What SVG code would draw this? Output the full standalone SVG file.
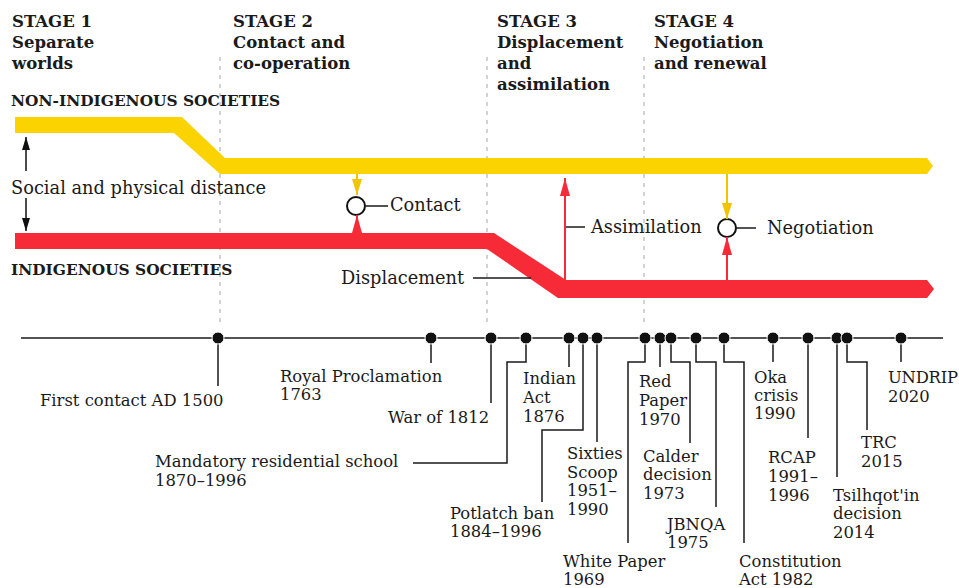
<svg xmlns="http://www.w3.org/2000/svg" width="959" height="588" viewBox="0 0 959 588">
<style>
text { font-family: "DejaVu Serif", serif; fill: #1a1a1a; }
.h { font-weight: bold; font-size: 16.5px; }
.soc { font-weight: bold; font-size: 15.4px; }
.lab { font-size: 17.8px; }
.ev { font-size: 16.4px; }
.dash { stroke: #b5b5b5; stroke-width: 1.2; stroke-dasharray: 4 5; fill: none; }
.lead { stroke: #1a1a1a; stroke-width: 1.5; fill: none; }
.tick { stroke: #1a1a1a; stroke-width: 1.5; }
.dot { fill: #111; stroke: #fff; stroke-width: 1; }
.ring { fill: #fff; stroke: #111; stroke-width: 2; }
.yel { fill: #FBD300; }
.red { fill: #F72A38; }
.ya { stroke: #F2C400; stroke-width: 2; marker-end: url(#mY); }
.ra { stroke: #F72A38; stroke-width: 2; marker-end: url(#mR); }
.ka { stroke: #111; stroke-width: 1.5; marker-end: url(#mK); }
</style>
<defs>
<marker id="mY" markerUnits="userSpaceOnUse" markerWidth="16" markerHeight="10" refX="16" refY="5" orient="auto"><path d="M0,0 L16,5 L0,10 Z" fill="#F2C400"/></marker>
<marker id="mR" markerUnits="userSpaceOnUse" markerWidth="18" markerHeight="10" refX="18" refY="5" orient="auto"><path d="M0,0 L18,5 L0,10 Z" fill="#F72A38"/></marker>
<marker id="mK" markerUnits="userSpaceOnUse" markerWidth="13" markerHeight="8" refX="13" refY="4" orient="auto"><path d="M0,0 L13,4 L0,8 Z" fill="#111"/></marker>
</defs>
<rect width="959" height="588" fill="#fff"/>

<g id="stage-dividers">
<line class="dash" x1="220" y1="57" x2="220" y2="324"/>
<line class="dash" x1="487" y1="57" x2="487" y2="324"/>
<line class="dash" x1="644" y1="57" x2="644" y2="324"/>
</g>

<g id="stage1"><text class="h" x="12" y="27">STAGE 1</text><text class="h" x="12" y="48">Separate</text><text class="h" x="12" y="69">worlds</text></g>
<g id="stage2"><text class="h" x="233" y="27">STAGE 2</text><text class="h" x="233" y="48">Contact and</text><text class="h" x="233" y="69">co-operation</text></g>
<g id="stage3"><text class="h" x="497" y="27">STAGE 3</text><text class="h" x="497" y="48">Displacement</text><text class="h" x="497" y="69">and</text><text class="h" x="497" y="90">assimilation</text></g>
<g id="stage4"><text class="h" x="654" y="27">STAGE 4</text><text class="h" x="654" y="48">Negotiation</text><text class="h" x="654" y="69">and renewal</text></g>

<g id="non-indigenous">
<text class="soc" x="11" y="106">NON-INDIGENOUS SOCIETIES</text>
<polygon class="yel" points="15,117 182,117 225,158 927,158 933,166 927,174 220,174 174,133 15,133"/>
</g>
<g id="indigenous">
<polygon class="red" points="15,233 494,233 566,280 927,280 934,289 927,298 558,298 487,249 15,249"/>
<text class="soc" x="11" y="275">INDIGENOUS SOCIETIES</text>
</g>

<g id="distance">
<text class="lab" x="11" y="194">Social and physical distance</text>
</g>
<g id="contact"><circle class="ring" cx="356" cy="206" r="9"/><text class="lab" x="390" y="211">Contact</text></g>
<g id="assimilation"><text class="lab" x="591" y="233">Assimilation</text></g>
<g id="negotiation"><circle class="ring" cx="727" cy="228" r="9"/><text class="lab" x="767" y="234">Negotiation</text></g>
<g id="displacement"><text class="lab" x="341" y="284">Displacement</text></g>

<g id="connectors">
<line class="ka" x1="26" y1="171" x2="26" y2="137"/>
<line class="ka" x1="26" y1="198" x2="26" y2="231"/>
<line class="ya" x1="357" y1="174" x2="357" y2="195"/>
<line class="ra" x1="357" y1="233" x2="357" y2="215"/>
<line class="tick" x1="366" y1="206" x2="388" y2="206"/>
<line class="ra" x1="565" y1="281" x2="565" y2="178"/>
<line class="tick" x1="566" y1="227" x2="585" y2="227"/>
<line class="ya" x1="727" y1="174" x2="727" y2="219"/>
<line class="ra" x1="727" y1="280" x2="727" y2="237"/>
<line class="tick" x1="736" y1="228" x2="756" y2="228"/>
<line class="tick" x1="473" y1="278" x2="531" y2="278"/>
<line class="tick" x1="21" y1="338" x2="943" y2="338"/>
<path class="lead" d="M218,338 V386"/>
<path class="lead" d="M431,338 V363"/>
<path class="lead" d="M491,338 V403"/>
<path class="lead" d="M526,338 V362 H507 V463 H413"/>
<path class="lead" d="M569,338 V367"/>
<path class="lead" d="M583,338 V430 H542 V502"/>
<path class="lead" d="M597,338 V442"/>
<path class="lead" d="M645,338 V362 H628 V543"/>
<path class="lead" d="M660,338 V367"/>
<path class="lead" d="M671,338 V362 H690 V443"/>
<path class="lead" d="M696,338 V362 H716 V507"/>
<path class="lead" d="M724,338 V362 H744 V543"/>
<path class="lead" d="M773,338 V362"/>
<path class="lead" d="M808,338 V438"/>
<path class="lead" d="M837,338 V477"/>
<path class="lead" d="M847,338 V362 H867 V430"/>
<path class="lead" d="M901,338 V362"/>
</g>

<g id="ev-first-contact"><circle class="dot" cx="218" cy="338" r="6"/><text class="ev" x="40" y="406">First contact AD 1500</text></g>
<g id="ev-royal"><circle class="dot" cx="431" cy="338" r="6"/><text class="ev" x="280" y="382">Royal Proclamation</text><text class="ev" x="280" y="400">1763</text></g>
<g id="ev-war"><circle class="dot" cx="491" cy="338" r="6"/><text class="ev" x="388" y="423">War of 1812</text></g>
<g id="ev-residential"><circle class="dot" cx="526" cy="338" r="6"/><text class="ev" x="155" y="467">Mandatory residential school</text><text class="ev" x="155" y="486">1870–1996</text></g>
<g id="ev-indian-act"><circle class="dot" cx="569" cy="338" r="6"/><text class="ev" x="523" y="384">Indian</text><text class="ev" x="523" y="403">Act</text><text class="ev" x="523" y="422">1876</text></g>
<g id="ev-potlatch"><circle class="dot" cx="583" cy="338" r="6"/><text class="ev" x="450" y="519">Potlatch ban</text><text class="ev" x="450" y="537">1884–1996</text></g>
<g id="ev-sixties"><circle class="dot" cx="597" cy="338" r="6"/><text class="ev" x="567" y="459">Sixties</text><text class="ev" x="567" y="478">Scoop</text><text class="ev" x="567" y="496">1951–</text><text class="ev" x="567" y="515">1990</text></g>
<g id="ev-white-paper"><circle class="dot" cx="645" cy="338" r="6"/><text class="ev" x="563" y="567">White Paper</text><text class="ev" x="563" y="585">1969</text></g>
<g id="ev-red-paper"><circle class="dot" cx="660" cy="338" r="6"/><text class="ev" x="639" y="387">Red</text><text class="ev" x="639" y="406">Paper</text><text class="ev" x="639" y="425">1970</text></g>
<g id="ev-calder"><circle class="dot" cx="671" cy="338" r="6"/><text class="ev" x="643" y="462">Calder</text><text class="ev" x="643" y="480">decision</text><text class="ev" x="643" y="499">1973</text></g>
<g id="ev-jbnqa"><circle class="dot" cx="696" cy="338" r="6"/><text class="ev" x="667" y="530">JBNQA</text><text class="ev" x="667" y="548">1975</text></g>
<g id="ev-constitution"><circle class="dot" cx="724" cy="338" r="6"/><text class="ev" x="739" y="567">Constitution</text><text class="ev" x="739" y="585">Act 1982</text></g>
<g id="ev-oka"><circle class="dot" cx="773" cy="338" r="6"/><text class="ev" x="754" y="383">Oka</text><text class="ev" x="754" y="401">crisis</text><text class="ev" x="754" y="419">1990</text></g>
<g id="ev-rcap"><circle class="dot" cx="808" cy="338" r="6"/><text class="ev" x="768" y="463">RCAP</text><text class="ev" x="768" y="482">1991–</text><text class="ev" x="768" y="501">1996</text></g>
<g id="ev-tsilhqotin"><circle class="dot" cx="837" cy="338" r="6"/><text class="ev" x="833" y="501">Tsilhqot'in</text><text class="ev" x="833" y="519">decision</text><text class="ev" x="833" y="538">2014</text></g>
<g id="ev-trc"><circle class="dot" cx="847" cy="338" r="6"/><text class="ev" x="861" y="448">TRC</text><text class="ev" x="861" y="467">2015</text></g>
<g id="ev-undrip"><circle class="dot" cx="901" cy="338" r="6"/><text class="ev" x="888" y="383" textLength="70">UNDRIP</text><text class="ev" x="888" y="402">2020</text></g>
</svg>
